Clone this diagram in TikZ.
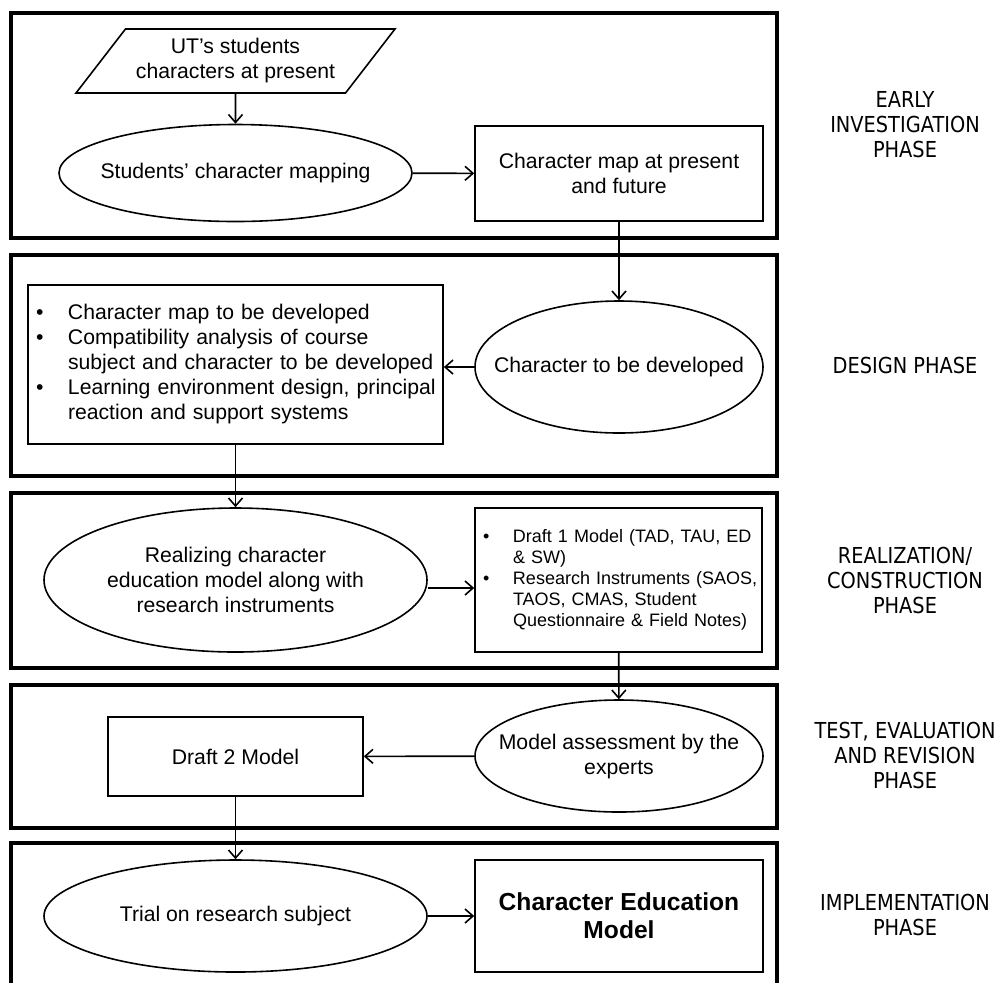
\documentclass[tikz,border=0pt]{standalone}
\usepackage{fontspec}
\setmainfont{Liberation Sans}
\newfontfamily\phasefont[FakeStretch=0.88]{DejaVu Sans}
\usetikzlibrary{arrows.meta, shapes.geometric}
\newcommand{\bul}[1]{\makebox[#1][l]{\hspace{4pt}\textbullet}}
\newcommand{\bsp}[1]{\hspace*{#1}}

\begin{document}
\begin{tikzpicture}[x=0.5pt, y=-0.5pt, font=\fontsize{10.6}{12.5}\selectfont,
    panel/.style={line width=1.8pt},
    procbox/.style={draw, line width=0.8pt, rectangle, inner sep=0pt, align=center},
    procoval/.style={draw, line width=0.8pt, ellipse, inner sep=-30pt, align=center},
    phase/.style={font=\phasefont\fontsize{11}{12.5}\selectfont, align=center},
    arr/.style={line width=0.8pt, -{Straight Barb[length=4pt, width=7pt]}}]
      \useasboundingbox (0,0) rectangle (1000,982);
      % phase panels
      \draw[panel] (11,13) rectangle (777,238);
      \draw[panel] (11,255) rectangle (777,476);
      \draw[panel] (11,493) rectangle (777,668);
      \draw[panel] (11,685) rectangle (777,828);
      \draw[panel] (11,1000) |- (777,843) -- (777,1000);

      % early investigation
      \node[draw, line width=0.8pt, trapezium, trapezium left angle=45, trapezium right angle=135, trapezium stretches=true,
        minimum width=159.5pt, minimum height=32pt, inner sep=0pt, align=center] (now) at (235.5,61)
        {UT’s students\\characters at present};
      \node[procoval, minimum width=176.5pt, minimum height=48.5pt] (map) at (235.5,173) {Students’ character mapping};
      \node[procbox, minimum width=144pt, minimum height=47.5pt] (mapfut) at (619,173.5) {Character map at present\\and future};

      % design
      \node[procoval, minimum width=144pt, minimum height=66pt] (dev) at (619,367) {Character to be developed};
      \node[procbox, text width=207.5pt, minimum height=79.5pt, align=left] (plan) at (235.5,364.5)
        {\bul{20pt}Character map to be developed\\
         \bul{20pt}Compatibility analysis of course\\
         \bsp{20pt}subject and character to be developed\\
         \bul{20pt}Learning environment design, principal\\
         \bsp{20pt}reaction and support systems};

      % realization
      \node[procoval, minimum width=191.5pt, minimum height=72pt] (real) at (235.5,580)
        {Realizing character\\education model along with\\research instruments};
      \node[procbox, text width=143.5pt, minimum height=72pt, align=left, font=\fontsize{9}{10.5}\selectfont] (draft1) at (618.5,580)
        {\bul{19pt}Draft 1 Model (TAD, TAU, ED\\
         \bsp{19pt}\& SW)\\
         \bul{19pt}Research Instruments (SAOS,\\
         \bsp{19pt}TAOS, CMAS, Student\\
         \bsp{19pt}Questionnaire \& Field Notes)};

      % test
      \node[procoval, minimum width=144pt, minimum height=56pt] (assess) at (619,756) {Model assessment by the\\experts};
      \node[procbox, minimum width=127.5pt, minimum height=39.5pt] (draft2) at (235.5,756.5) {Draft 2 Model};

      % implementation
      \node[procoval, minimum width=191.5pt, minimum height=56pt] (trial) at (235.5,916) {Trial on research subject};
      \node[procbox, minimum width=144pt, minimum height=56pt, font=\fontsize{12.3}{14}\selectfont\bfseries] (final) at (619,916)
        {Character Education\\Model};

      % phase names
      \node[phase] (ph1) at (905,125) {EARLY\\INVESTIGATION\\PHASE};
      \node[phase] (ph2) at (905,365) {DESIGN PHASE};
      \node[phase] (ph3) at (905,580) {REALIZATION/\\CONSTRUCTION\\PHASE};
      \node[phase] (ph4) at (905,755) {TEST, EVALUATION\\AND REVISION\\PHASE};
      \node[phase] (ph5) at (905,915) {IMPLEMENTATION\\PHASE};

      \draw[arr] (now) -- (map);
      \draw[arr] (map) -- (mapfut);
      \draw[arr] (mapfut) -- (dev);
      \draw[arr] (dev.west) -- (plan.east |- dev.west);
      \draw[arr] (plan) -- (real);
      \draw[arr] ([yshift=-4pt]real.east) -- ([yshift=-4pt]draft1.west);
      \draw[arr] (draft1) -- (assess);
      \draw[arr] (assess) -- (draft2);
      \draw[arr] (draft2) -- (trial);
      \draw[arr] (trial) -- (final);
    \end{tikzpicture}
\end{document}
